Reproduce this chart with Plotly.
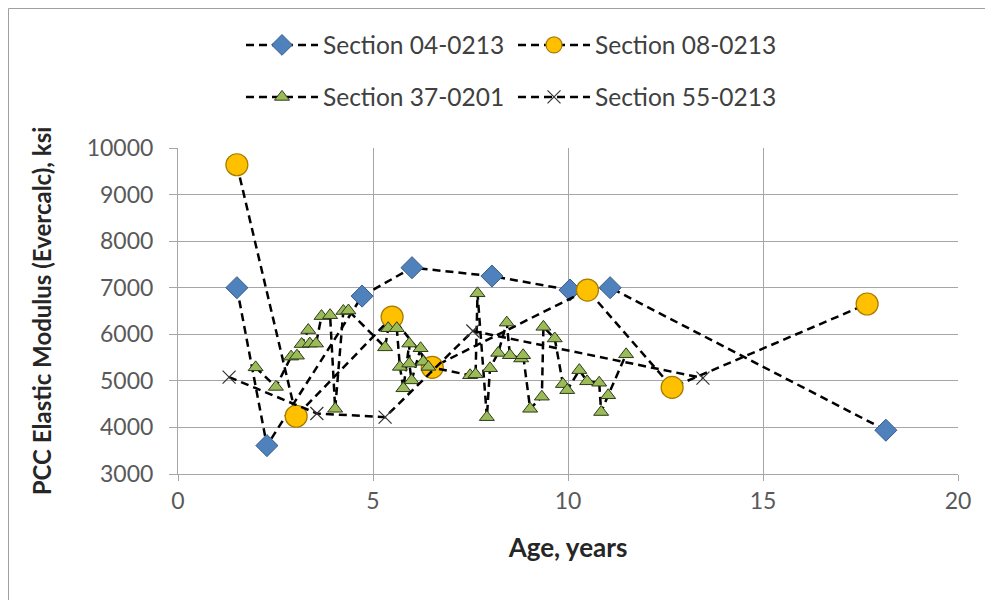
import plotly.graph_objects as go

# ---------------- data ----------------
s04_age = [1.51, 2.28, 4.72, 6.0, 8.05, 10.05, 11.08, 18.15]
s04_mod = [7000, 3610, 6820, 7430, 7250, 6950, 7000, 3940]

s08_age = [1.51, 3.03, 5.49, 6.52, 10.5, 12.67, 17.67]
s08_mod = [9640, 4240, 6370, 5290, 6950, 4860, 6650]

s37_age = [1.99, 2.51, 2.9, 3.05, 3.17, 3.34, 3.38, 3.54, 3.68, 3.9,
           4.03, 4.24, 4.37, 5.31, 5.39, 5.61, 5.69, 5.78, 5.93, 5.93,
           5.99, 6.22, 6.29, 6.42, 7.49, 7.63, 7.68, 7.92, 8.0, 8.21,
           8.43, 8.51, 8.8, 8.85, 9.03, 9.33, 9.37, 9.66, 9.87, 9.98,
           10.29, 10.49, 10.8, 10.85, 11.03, 11.49]
s37_mod = [5290, 4870, 5520, 5540, 5790, 6090, 5800, 5800, 6390, 6410,
           4400, 6500, 6510, 5720, 6130, 6130, 5300, 4840, 5800, 5370,
           5010, 5700, 5410, 5300, 5120, 5140, 6880, 4220, 5270, 5600,
           6250, 5550, 5480, 5550, 4400, 4660, 6160, 5910, 4930, 4800,
           5230, 4990, 4960, 4330, 4690, 5570]

s55_age = [1.31, 3.56, 5.31, 7.56, 13.46]
s55_mod = [5080, 4300, 4220, 6070, 5060]

names = ["Section 04-0213", "Section 08-0213", "Section 37-0201", "Section 55-0213"]
x_ticks = [0, 5, 10, 15, 20]
y_ticks = [3000, 4000, 5000, 6000, 7000, 8000, 9000, 10000]

FONT = "Lato"
LINE = dict(color="black", width=2.5, dash="8px,5px")

fig = go.Figure()
fig.add_trace(go.Scatter(
    x=s04_age, y=s04_mod, name=names[0], mode="lines+markers", line=LINE,
    marker=dict(symbol="diamond", size=17, color="#4F81BD",
                line=dict(color="#385D8A", width=1)),
    legend="legend"))
fig.add_trace(go.Scatter(
    x=s08_age, y=s08_mod, name=names[1], mode="lines+markers", line=LINE,
    marker=dict(symbol="circle", size=22, color="#FFC000",
                line=dict(color="#A67C00", width=1.2)),
    legend="legend"))
fig.add_trace(go.Scatter(
    x=s37_age, y=s37_mod, name=names[2], mode="lines+markers", line=LINE,
    marker=dict(symbol="triangle-up", size=13, color="#9BBB59",
                line=dict(color="#2E3B1A", width=1)),
    legend="legend2"))
fig.add_trace(go.Scatter(
    x=s55_age, y=s55_mod, name=names[3], mode="lines+markers", line=LINE,
    marker=dict(symbol="x-thin", size=13, color="black",
                line=dict(color="#333333", width=1.2)),
    legend="legend2"))

OFF = 8  # page offset of the figure inside the browser window
L, R, T, B = 178 - OFF, 993 - (958 - OFF), 148 - OFF, 600 - (474 - OFF)
pw = 993 - L - R
ph = 600 - T - B

def px_x(px):
    return (px - OFF - L) / pw

def px_y(py):
    return (600 - B - (py - OFF)) / ph

legend_common = dict(
    orientation="h", xanchor="left", yanchor="middle",
    font=dict(family=FONT, size=24.5, color="#404040"),
    bgcolor="rgba(0,0,0,0)", itemwidth=72,
    entrywidth=185, entrywidthmode="pixels", itemsizing="trace",
)

fig.update_layout(
    width=993, height=600,
    margin=dict(l=L, r=R, t=T, b=B),
    paper_bgcolor="white", plot_bgcolor="white",
    font=dict(family=FONT, size=23, color="#595959"),
    legend=dict(x=px_x(241), y=px_y(45), **legend_common),
    legend2=dict(x=px_x(241), y=px_y(97), **legend_common),
    xaxis=dict(
        range=[0, 20], tickvals=x_ticks, ticktext=[str(v) for v in x_ticks],
        showgrid=True, gridcolor="#A6A6A6", gridwidth=1,
        showline=True, linecolor="#A6A6A6", linewidth=1,
        ticks="outside", ticklen=6, tickcolor="#A6A6A6",
        tickfont=dict(family=FONT, size=23, color="#595959"),
        ticklabelstandoff=0,
        zeroline=False, automargin=False,
        title=dict(text="<b>Age, years</b>", standoff=26,
                   font=dict(family=FONT, size=26, color="#262626")),
    ),
    yaxis=dict(
        range=[3000, 10000], tickvals=y_ticks, ticktext=[str(v) for v in y_ticks],
        showgrid=True, gridcolor="#A6A6A6", gridwidth=1,
        showline=True, linecolor="#A6A6A6", linewidth=1,
        ticks="outside", ticklen=8, tickcolor="#A6A6A6",
        tickfont=dict(family=FONT, size=23, color="#595959"),
        ticklabelstandoff=11,
        zeroline=False, automargin=False,
        title=dict(text="<b>PCC Elastic Modulus (Evercalc), ksi</b>", standoff=28,
                   font=dict(family=FONT, size=24, color="#262626")),
    ),
    shapes=[dict(type="rect", xref="paper", yref="paper",
                 x0=px_x(8.5), x1=px_x(986), y0=px_y(610), y1=px_y(8.5),
                 line=dict(color="#A0A0A0", width=1), fillcolor="rgba(0,0,0,0)",
                 layer="below")],
)

fig.write_html("out.html")
